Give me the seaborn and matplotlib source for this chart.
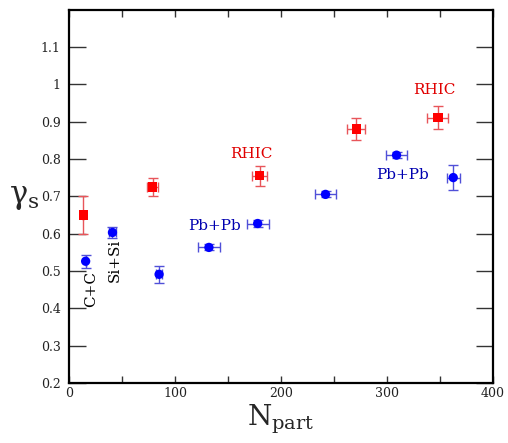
import matplotlib
matplotlib.use("Agg")
import matplotlib.pyplot as plt
import seaborn as sns
import pandas as pd
from matplotlib.ticker import FixedLocator

# RHIC (red squares)
rhic_x = [13.5, 79, 180, 271, 348]
rhic_y = [0.65, 0.725, 0.755, 0.88, 0.91]
rhic_xerr = [0, 5, 7, 8.5, 10]
rhic_yerr = [0.05, 0.025, 0.027, 0.03, 0.031]

# SPS (blue circles)
sps_x = [15.7, 41, 85, 132, 178, 242, 309, 362.5]
sps_y = [0.526, 0.603, 0.491, 0.563, 0.627, 0.705, 0.810, 0.750]
sps_xerr = [0, 3, 3, 10.4, 10.5, 10, 10, 6]
sps_yerr = [0.018, 0.014, 0.023, 0.008, 0.01, 0.008, 0.008, 0.033]

xticks = [0, 100, 200, 300, 400]
yticks = [0.2, 0.3, 0.4, 0.5, 0.6, 0.7, 0.8, 0.9, 1, 1.1]
ytick_labels = ["0.2", "0.3", "0.4", "0.5", "0.6", "0.7", "0.8", "0.9", "1", "1.1"]

sns.set_style("white")
plt.rcParams['font.family'] = ['DejaVu Serif']
plt.rcParams['mathtext.fontset'] = 'dejavuserif'

fig = plt.figure(figsize=(5.08, 4.43), dpi=100)
ax = fig.add_axes([69/508, 1-383/443, (493-69)/508, (383-9.5)/443])

df = pd.DataFrame({
    "x": rhic_x + sps_x,
    "y": rhic_y + sps_y,
    "set": ["RHIC"] * len(rhic_x) + ["SPS"] * len(sps_x),
})

ax.errorbar(rhic_x, rhic_y, xerr=rhic_xerr, yerr=rhic_yerr, fmt="none",
            ecolor="#e8555a", elinewidth=1.0, capsize=3.5, capthick=1.0, zorder=2)
ax.errorbar(sps_x, sps_y, xerr=sps_xerr, yerr=sps_yerr, fmt="none",
            ecolor="#5050d8", elinewidth=1.0, capsize=3.5, capthick=1.0, zorder=2)

sns.scatterplot(data=df, x="x", y="y", hue="set", style="set",
                palette={"RHIC": "#ff0000", "SPS": "#0000ff"},
                markers={"RHIC": "s", "SPS": "o"}, s=45, linewidth=0,
                legend=False, ax=ax, zorder=3)

ax.set_xlim(0, 400)
ax.set_ylim(0.2, 1.2)
ax.set_xticks(xticks)
ax.xaxis.set_minor_locator(FixedLocator([50, 150, 250, 350]))
ax.set_yticks(yticks)
ax.set_yticklabels(ytick_labels)

ax.tick_params(axis="x", which="both", direction="in", length=5, width=1,
               top=True, bottom=True, labelsize=9, pad=3, color="#333333",
               labelcolor="#222222")
ax.tick_params(axis="y", which="both", direction="in", length=12, width=1,
               left=True, right=True, labelsize=9, pad=6, color="#333333",
               labelcolor="#222222")
for sp in ax.spines.values():
    sp.set_linewidth(1.6)
    sp.set_color("black")

ax.set_xlabel(r"N$_{\mathregular{part}}$", fontsize=20, labelpad=2)
ax.set_ylabel(r"$\mathrm{\gamma}_{\mathregular{s}}$", fontsize=22, rotation=0,
              labelpad=12, va="center")

ax.text(20.8, 0.451, "C+C", rotation=90, ha="center", va="center", fontsize=11, color="black")
ax.text(43.4, 0.529, "Si+Si", rotation=90, ha="center", va="center", fontsize=11, color="black")
ax.text(137.7, 0.62, "Pb+Pb", ha="center", va="center", fontsize=11, color="#0000b0")
ax.text(172, 0.814, "RHIC", ha="center", va="center", fontsize=11, color="#e00000")
ax.text(315, 0.756, "Pb+Pb", ha="center", va="center", fontsize=11, color="#0000b0")
ax.text(345, 0.985, "RHIC", ha="center", va="center", fontsize=11, color="#e00000")

fig.savefig("out.png", dpi=100)
